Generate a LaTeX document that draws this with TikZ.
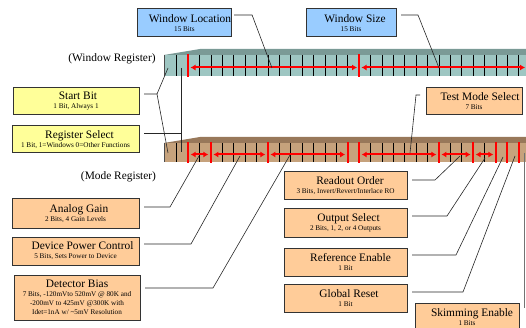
\documentclass[tikz,border=0pt]{standalone}
\usepackage{fontspec}
\setmainfont{Liberation Serif}
\usetikzlibrary{arrows.meta}
\definecolor{blueboxc}{HTML}{99CCFF}
\definecolor{yellowboxc}{HTML}{FFFF99}
\definecolor{orangeboxc}{HTML}{FFCC99}
\definecolor{winface}{HTML}{9EC6C2}
\definecolor{wintop}{HTML}{7A9A96}
\definecolor{modeface}{HTML}{C6A27C}
\definecolor{modetop}{HTML}{98785A}
\definecolor{fieldred}{HTML}{FF0000}
\newcommand\subtxt[1]{{\fontsize{7.2}{6.6}\selectfont #1}}
\begin{document}
\begin{tikzpicture}[x=1pt,y=-1pt,
  box/.style={draw=black!80, line width=1pt, inner sep=0pt, outer sep=0pt, align=center, font=\fontsize{11.4}{9}\selectfont},
  bluebox/.style={box, fill=blueboxc},
  yellowbox/.style={box, fill=yellowboxc},
  orangebox/.style={box, fill=orangeboxc},
  reglabel/.style={font=\fontsize{11.4}{13}\selectfont, inner sep=0pt},
  leader/.style={draw=black!85, line width=0.6pt},
  grayleader/.style={draw=black!55, line width=0.7pt},
  cellline/.style={black, line width=0.6pt},
  redsep/.style={fieldred, line width=2pt},
  redarrow/.style={fieldred, line width=2pt, {Latex[length=5pt,width=6pt]}-{Latex[length=5pt,width=6pt]}},
]
\useasboundingbox (0,0) rectangle (526,328);

% ---------- Window register bar ----------
\fill[winface] (164,55) rectangle (530,76);
\fill[wintop] (164,55) -- (200,49) -- (530,49) -- (530,55) -- cycle;
\draw[black!70, line width=0.8pt] (164,55) -- (164,76);
\foreach \k in {1,...,31} \draw[cellline] ({165.3+11.4*\k},55) -- ++(0,21);
\foreach \k in {2,17} \draw[redsep] ({165.3+11.4*\k},54) -- ++(0,23);
\draw[redarrow] (190.5,67.5) -- (357,67.5);
\draw[redarrow] (361.5,67.5) -- (525,67.5);

% ---------- Mode register bar ----------
\fill[modeface] (164,143) rectangle (530,162);
\fill[modetop] (164,143) -- (200,137) -- (530,137) -- (530,143) -- cycle;
\draw[black!70, line width=0.8pt] (164,143) -- (164,162);
\foreach \k in {1,...,31} \draw[cellline] ({165.3+11.4*\k},143) -- ++(0,19);
\foreach \k in {2,4,9,16,17,24,27,29,30,31} \draw[redsep] ({165.3+11.4*\k},142) -- ++(0,21);
\foreach \a/\b in {2/4,4/9,9/16,17/24,24/27,27/29}
  \draw[redarrow] ({165.3+11.4*\a+2.5},154.5) -- ({165.3+11.4*\b-2.5},154.5);

% ---------- Register labels ----------
\node[reglabel] (wreg) at (112,59) {(Window Register)};
\node[reglabel] (mreg) at (118.5,177) {(Mode Register)};

% ---------- Boxes ----------
\node[bluebox, minimum width=91pt, minimum height=28pt] (wloc) at (184.5,23)
  {\hspace*{11pt}Window Location\\\subtxt{15 Bits}};
\node[bluebox, minimum width=90pt, minimum height=28pt] (wsize) at (351,23)
  {\hspace*{8pt}Window Size\\\subtxt{15 Bits}};
\node[orangebox, minimum width=96pt, minimum height=27pt] (tmode) at (474,101.5)
  {\hspace*{12pt}Test Mode Select\\\subtxt{7 Bits}};
\node[yellowbox, minimum width=126pt, minimum height=27pt] (sbit) at (76,101.5)
  {\hspace*{4pt}Start Bit\\\subtxt{1 Bit, Always 1}};
\node[yellowbox, minimum width=127pt, minimum height=27pt] (rsel) at (75.5,139.5)
  {\hspace*{8pt}Register Select\\\subtxt{1 Bit, 1=Windows 0=Other Functions}};
\node[orangebox, minimum width=127pt, minimum height=29pt] (again) at (75.5,213.5)
  {\hspace*{7pt}Analog Gain\\\subtxt{2 Bits, 4 Gain Levels}};
\node[orangebox, minimum width=127pt, minimum height=28pt] (dpow) at (75.5,251)
  {\hspace*{14pt}Device Power Control\\\subtxt{5 Bits, Sets Power to Device}};
\node[orangebox, minimum width=126pt, minimum height=45pt] (dbias) at (77,297.5)
  {Detector Bias\\\subtxt{7 Bits, -120mVto 520mV @ 80K and}\\\subtxt{-200mV to 425mV @300K with}\\\subtxt{Idet=1nA w/ \textasciitilde5mV Resolution}};
\node[orangebox, minimum width=123pt, minimum height=28pt] (rord) at (345.5,186)
  {\hspace*{9pt}Readout Order\\\subtxt{3 Bits, Invert/Revert/Interlace RO}};
\node[orangebox, minimum width=123pt, minimum height=28pt] (osel) at (345.5,223)
  {\hspace*{6pt}Output Select\\\subtxt{2 Bits, 1, 2, or 4 Outputs}};
\node[orangebox, minimum width=123pt, minimum height=28pt] (refen) at (345.5,262)
  {\hspace*{10pt}Reference Enable\\\subtxt{1 Bit}};
\node[orangebox, minimum width=123pt, minimum height=28pt] (grst) at (345.5,298)
  {\hspace*{7pt}Global Reset\\\subtxt{1 Bit}};
\node[orangebox, minimum width=104pt, minimum height=28pt] (skim) at (467,317)
  {\hspace*{10pt}Skimming Enable\\\subtxt{1 Bits}};

% ---------- Leader end points ----------
\coordinate (wlend) at (272,68);
\coordinate (wsend) at (439,68);
\coordinate (tmend) at (410,153);
\coordinate (sbwin) at (168,68);
\coordinate (sbmode) at (168,153);
\coordinate (rswin) at (181,68);
\coordinate (rsmode) at (181,152);
\coordinate (agend) at (199,156);
\coordinate (dpend) at (240,156);
\coordinate (dbend) at (290,155);
\coordinate (roend) at (460,156);
\coordinate (osend) at (485,158);
\coordinate (reend) at (503,157);
\coordinate (grend) at (515,156);
\coordinate (sktop) at (524,153);
\coordinate (skbot) at ([xshift=5pt,yshift=-5pt]skim.north east);
\coordinate (rsstart) at ([xshift=5pt,yshift=-7pt]rsel.north east);

% ---------- Leaders ----------
\draw[leader] ([xshift=3pt,yshift=-6pt]wloc.north east) -- ++(18,0) -- (wlend);
\draw[leader] ([xshift=5pt,yshift=-6pt]wsize.north east) -- ++(17,0) -- (wsend);
\draw[leader] ([xshift=-6pt,yshift=-7pt]tmode.north west) -- ++(-4,0) -- (tmend);
\draw[leader] ([xshift=5pt,yshift=-6pt]sbit.north east) -- ++(13,0) coordinate (sbfork) -- (sbwin);
\draw[leader] (sbfork) -- (sbmode);
\draw[leader] (rswin) -- (rsmode);
\draw[leader] (rsstart) -- (rsstart -| rswin);
\draw[leader] ([xshift=5pt,yshift=-8pt]again.north east) -- ++(26,0) -- (agend);
\draw[leader] ([xshift=5pt,yshift=-7pt]dpow.north east) -- ++(47,0) -- (dpend);
\draw[leader] ([xshift=5pt,yshift=-13pt]dbias.north east) -- ++(68,0) -- (dbend);
\draw[leader] ([xshift=5pt,yshift=-8pt]rord.north east) -- ++(23,0) -- (roend);
\draw[leader] ([xshift=5pt,yshift=-7pt]osel.north east) -- ++(35,0) -- (osend);
\draw[leader] ([xshift=5pt,yshift=-7pt]refen.north east) -- ++(44,0) -- (reend);
\draw[leader] ([xshift=5pt,yshift=-8pt]grst.north east) -- ++(51,0) -- (grend);
\draw[grayleader] (sktop) -- (sktop |- skbot);
\end{tikzpicture}
\end{document}
